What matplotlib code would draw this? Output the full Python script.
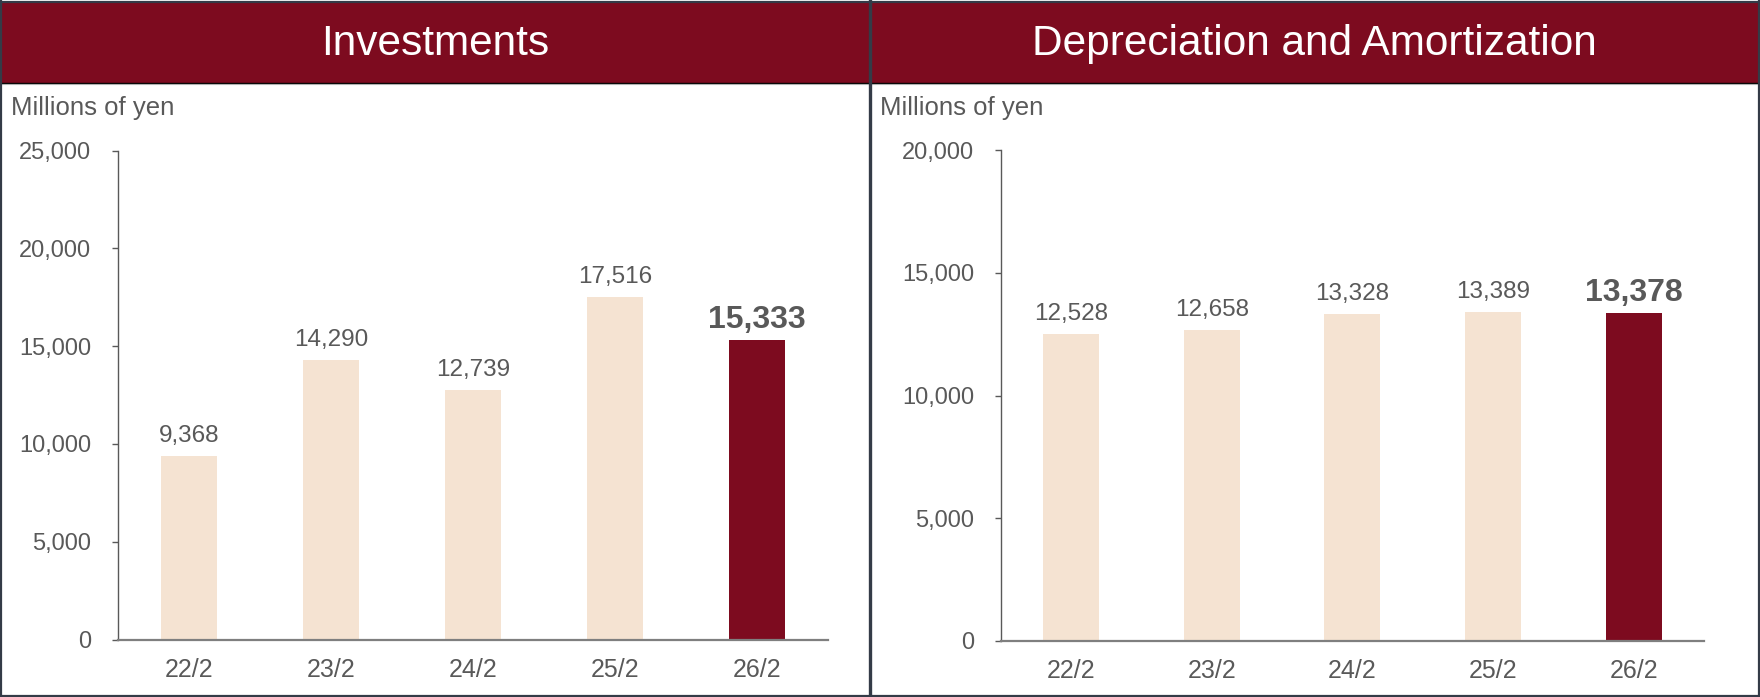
import matplotlib.pyplot as plt
from matplotlib.patches import Rectangle
from matplotlib.lines import Line2D

plt.rcParams['font.family'] = ['Liberation Sans', 'DejaVu Sans']

# data
periods = ['22/2', '23/2', '24/2', '25/2', '26/2']
investments = [9368, 14290, 12739, 17516, 15333]
depreciation = [12528, 12658, 13328, 13389, 13378]
titles = ['Investments', 'Depreciation and Amortization']
unit_label = 'Millions of yen'

W, H = 1760, 697
dark_red = '#7d0b1f'
light = '#f5e3d2'
text_gray = '#595959'
frame = '#343b47'

fig = plt.figure(figsize=(W / 100, H / 100), dpi=100)


def fx(x):
    return x / W


def fy(y):
    return 1 - y / H


# panel headers and frame
panels = [(2, 869), (871, 1758)]
for (x0, x1), title in zip(panels, titles):
    fig.add_artist(Rectangle((fx(x0), fy(82.5)), fx(x1 - x0), (82.5 - 3) / H,
                             transform=fig.transFigure, color=dark_red, lw=0))
    fig.text(fx((x0 + x1) / 2), fy(44), title, color='white', fontsize=30.5,
             ha='center', va='center')
    fig.text(fx(x0 + 9), fy(115), unit_label, color=text_gray, fontsize=18.5,
             ha='left', va='baseline')

fig.add_artist(Line2D([0, 1], [fy(82.7)] * 2, transform=fig.transFigure, color='black', lw=1))
fig.add_artist(Line2D([0, 1], [fy(84)] * 2, transform=fig.transFigure, color='#b0b0b0', lw=0.8))
for xs, ys in [([fx(1), fx(1)], [0, 1]), ([fx(1759), fx(1759)], [0, 1]),
               ([0, 1], [fy(2), fy(2)]), ([0, 1], [fy(696), fy(696)])]:
    fig.add_artist(Line2D(xs, ys, transform=fig.transFigure, color=frame, lw=1.6))
fig.add_artist(Line2D([fx(870), fx(870)], [0, 1], transform=fig.transFigure, color=frame, lw=2.4))

# axes
rects = [[fx(118), 57.5 / H, 710 / W, 488.8 / H],
         [fx(1000.7), 56.3 / H, 703.3 / W, 490.4 / H]]
series = [investments, depreciation]
ymaxes = [25000, 20000]

for rect, values, ymax in zip(rects, series, ymaxes):
    ax = fig.add_axes(rect)
    colors = [light] * (len(values) - 1) + [dark_red]
    x = range(len(periods))
    ax.bar(x, values, width=0.4, color=colors)
    ax.set_xlim(-0.5, len(periods) - 0.5)
    ax.set_ylim(0, ymax)
    ax.set_yticks(range(0, ymax + 1, 5000))
    ax.set_yticklabels([f'{t:,}' for t in range(0, ymax + 1, 5000)])
    ax.set_xticks(list(x))
    ax.set_xticklabels(periods)
    for s in ['top', 'right']:
        ax.spines[s].set_visible(False)
    ax.spines['left'].set_color(text_gray)
    ax.spines['left'].set_linewidth(1)
    ax.spines['bottom'].set_color('#7f7f7f')
    ax.spines['bottom'].set_linewidth(1.6)
    ax.tick_params(axis='y', length=4.3, width=1, color=text_gray, pad=15,
                   labelsize=17, labelcolor=text_gray)
    ax.tick_params(axis='x', length=0, pad=13.5, labelsize=18, labelcolor=text_gray)
    ax.patch.set_alpha(0)
    for i, v in enumerate(values):
        if i == len(values) - 1:
            ax.annotate(f'{v:,}', (i, v), xytext=(0, 12), textcoords='offset pixels',
                        ha='center', va='baseline', fontsize=23, fontweight='bold',
                        color=text_gray)
        else:
            ax.annotate(f'{v:,}', (i, v), xytext=(0, 14), textcoords='offset pixels',
                        ha='center', va='baseline', fontsize=17.5, color=text_gray)

fig.savefig('out.png', dpi=100)
